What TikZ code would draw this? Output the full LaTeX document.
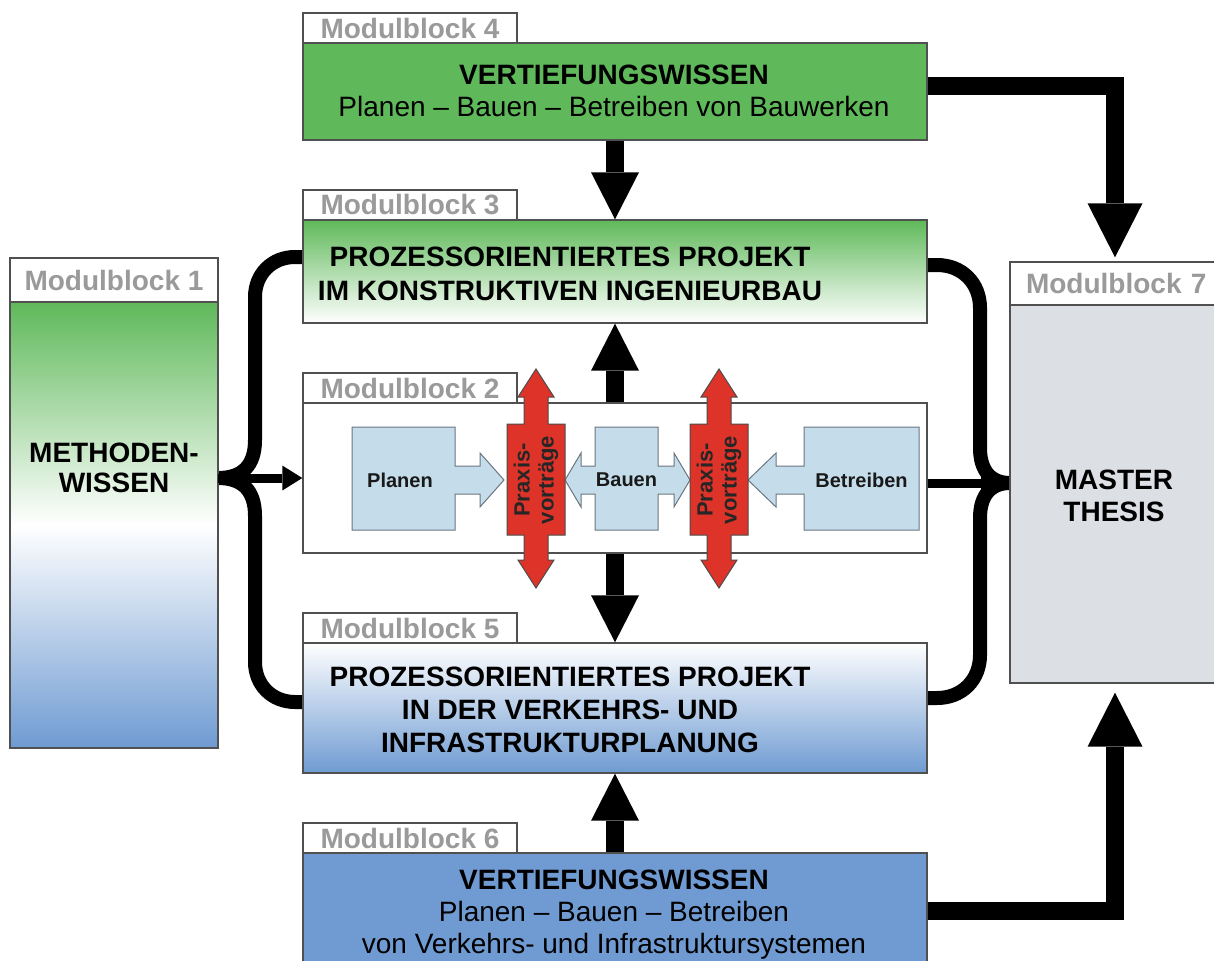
\documentclass[tikz,border=0pt]{standalone}
\usepackage{fontspec}
\setmainfont{Liberation Sans}
\usetikzlibrary{arrows.meta}
\definecolor{mgreen}{HTML}{5FB95A}
\definecolor{mblue}{HTML}{6F9BD2}
\definecolor{mgray}{HTML}{DCDFE3}
\definecolor{lblue}{HTML}{C5DDEB}
\definecolor{mred}{HTML}{DD3329}
\definecolor{tabtext}{HTML}{9A9A9A}
\definecolor{edge}{HTML}{505050}
\definecolor{iedge}{HTML}{6A7680}
\begin{document}
\begin{tikzpicture}[x=1pt,y=-1pt,
  box/.style={draw=edge, line width=1.4pt, rectangle, inner sep=0pt},
  tab/.style={box, fill=white, font=\fontsize{28}{30}\selectfont\bfseries, text=tabtext},
  ttl/.style={font=\fontsize{28}{30}\selectfont\bfseries, anchor=base, inner sep=0pt},
  sub/.style={font=\fontsize{28}{30}\selectfont, anchor=base, inner sep=0pt},
  inner/.style={font=\fontsize{20}{23}\selectfont\bfseries, text=black!90, inner sep=0pt},
  ptext/.style={font=\fontsize{22}{24}\selectfont\bfseries, text=black!85, inner sep=0pt},
  bigarrow/.style={line width=18pt, draw=black, -{Triangle[width=48pt,length=47pt,line width=0pt]}},
  hugearrow/.style={line width=18pt, draw=black, line join=miter, -{Triangle[width=55pt,length=54pt,line width=0pt]}},
  thinarrow/.style={line width=9pt, draw=black, -{Triangle[width=25pt,length=20pt,line width=0pt]}},
  brace/.style={line width=14pt, draw=black, line cap=butt},
  blueshape/.style={fill=lblue, draw=iedge, line width=1pt},
  redshape/.style={fill=mred, draw=black!70, line width=1pt},
  praxis/.pic={
    \filldraw[redshape] (0,-111) -- (18,-83) -- (12,-83) -- (12,-56) -- (29,-56) -- (29,55) -- (12,55) -- (12,80) -- (18,80) -- (0,108) -- (-18,80) -- (-12,80) -- (-12,55) -- (-29,55) -- (-29,-56) -- (-12,-56) -- (-12,-83) -- (-18,-83) -- cycle;
    \node[ptext, rotate=90, align=center] (-t) at (0,0) {Praxis-\\vorträge};
  }
]
\useasboundingbox (0,0) rectangle (1214,960);

% ---- connectors behind boxes ----
\coordinate (lj) at (218,478);
\coordinate (rj) at (1010,483);
\draw[brace] (303,257) -- (295,257) .. controls (272,257) and (255,274) .. (255,297) -- (255,440) .. controls (255,466) and (242,478) .. (lj);
\draw[brace] (lj) .. controls (242,478) and (255,490) .. (255,516) -- (255,662) .. controls (255,685) and (272,702) .. (295,702) -- (303,702);
\draw[brace] (927,265) -- (937,265) .. controls (962,265) and (980,283) .. (980,308) -- (980,448) .. controls (980,472) and (992,483) .. (rj);
\draw[brace] (rj) .. controls (992,483) and (980,494) .. (980,518) -- (980,655) .. controls (980,680) and (962,698) .. (937,698) -- (927,698);

% ---- boxes ----
\node[box, fill=mgreen, minimum width=624pt, minimum height=97pt] (mb4) at (615,91.5) {};
\node[tab, minimum width=214pt, minimum height=30pt] (mb4tab) at (410,28) {Modulblock 4};
\node[ttl] (mb4a) at (614,85) {VERTIEFUNGSWISSEN};
\node[sub] (mb4b) at (614,117) {Planen – Bauen – Betreiben von Bauwerken};

\node[box, top color=mgreen, bottom color=white, minimum width=624pt, minimum height=103pt] (mb3) at (615,271.5) {};
\node[tab, minimum width=214pt, minimum height=30pt] (mb3tab) at (410,205) {Modulblock 3};
\node[ttl] (mb3a) at (570,266) {PROZESSORIENTIERTES PROJEKT};
\node[ttl] (mb3b) at (570,300) {IM KONSTRUKTIVEN INGENIEURBAU};

\node[box, fill=white, minimum width=624pt, minimum height=150pt] (mb2) at (615,478) {};
\node[tab, minimum width=214pt, minimum height=30pt] (mb2tab) at (410,388) {Modulblock 2};

\node[box, top color=white, bottom color=mblue, minimum width=624pt, minimum height=130pt] (mb5) at (615,708) {};
\node[tab, minimum width=214pt, minimum height=30pt] (mb5tab) at (410,628) {Modulblock 5};
\node[ttl] (mb5a) at (570,686) {PROZESSORIENTIERTES PROJEKT};
\node[ttl] (mb5b) at (570,719) {IN DER VERKEHRS- UND};
\node[ttl] (mb5c) at (570,752) {INFRASTRUKTURPLANUNG};

\node[box, fill=mblue, minimum width=624pt, minimum height=118pt] (mb6) at (615,912) {};
\node[tab, minimum width=214pt, minimum height=30pt] (mb6tab) at (410,838) {Modulblock 6};
\node[ttl] (mb6a) at (614,889) {VERTIEFUNGSWISSEN};
\node[sub] (mb6b) at (614,921) {Planen – Bauen – Betreiben};
\node[sub] (mb6c) at (614,953) {von Verkehrs- und Infrastruktursystemen};

\node[box, top color=mgreen, bottom color=mblue, middle color=white, minimum width=208pt, minimum height=446pt] (mb1) at (114,525) {};
\node[tab, minimum width=208pt, minimum height=44pt] (mb1tab) at (114,280) {Modulblock 1};
\node[ttl] (mb1a) at (114,462) {METHODEN-};
\node[ttl] (mb1b) at (114,492) {WISSEN};

\node[box, fill=mgray, minimum width=210pt, minimum height=378pt] (mb7) at (1115,494) {};
\node[tab, minimum width=210pt, minimum height=43pt, text width=208pt, align=left] (mb7tab) at (1115,283.5) {\hspace*{15pt}Modulblock 7};
\node[ttl] (mb7a) at (1114,489) {MASTER};
\node[ttl] (mb7b) at (1114,521) {THESIS};

% ---- Modulblock 2 contents ----
\draw[blueshape] (352,427) -- (455,427) -- (455,466) -- (480,466) -- (480,453) -- (504,480) -- (480,507) -- (480,494) -- (455,494) -- (455,530) -- (352,530) -- cycle;
\draw[blueshape] (595,427) -- (658,427) -- (658,466) -- (674,466) -- (674,453) -- (690,480) -- (674,507) -- (674,494) -- (658,494) -- (658,530) -- (595,530) -- (595,494) -- (581,494) -- (581,507) -- (565,480) -- (581,453) -- (581,466) -- (595,466) -- cycle;
\draw[blueshape] (919,427) -- (804,427) -- (804,466) -- (776,466) -- (776,453) -- (748,480) -- (776,507) -- (776,494) -- (804,494) -- (804,530) -- (919,530) -- cycle;
\node[inner] (planen) at (400,480) {Planen};
\node[inner] (bauen) at (626.5,480) {Bauen};
\node[inner] (betreiben) at (861.5,480) {Betreiben};
\pic (px1) at (536,480) {praxis};
\pic (px2) at (719,480) {praxis};

% ---- arrows ----
\draw[bigarrow] (mb4.south) -- (mb3.north);
\draw[bigarrow] (mb2.north) -- (mb3.south);
\draw[bigarrow] (mb2.south) -- (mb5.north);
\draw[bigarrow] (mb6.north) -- (mb5.south);
\draw[hugearrow, shorten >=4pt] ([yshift=5.5pt]mb4.east) -| (mb7tab.north);
\draw[hugearrow, shorten >=9pt] ([yshift=1pt]mb6.east) -| (mb7.south);
\draw[thinarrow] (lj) -- (mb2.west |- lj);
\draw[thinarrow, shorten >=9pt] (mb2.east |- rj) -- (rj);
\end{tikzpicture}
\end{document}
